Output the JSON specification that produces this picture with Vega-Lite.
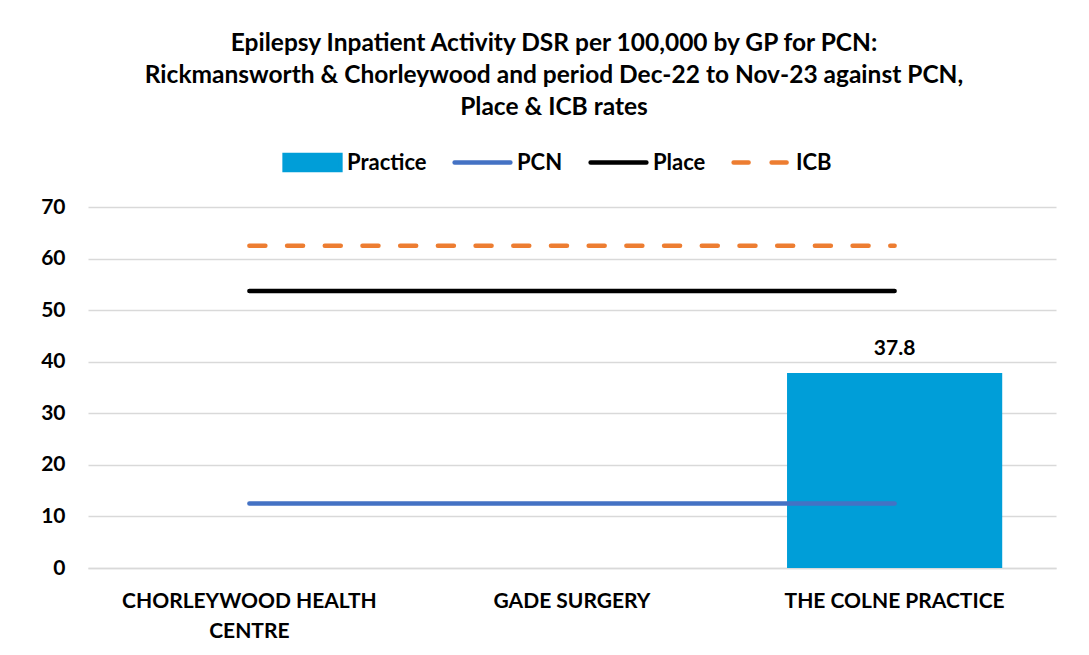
{
  "$schema": "https://vega.github.io/schema/vega-lite/v6.json",
  "autosize": "none",
  "width": 968,
  "height": 361,
  "padding": {"left": 88, "top": 207, "right": 33, "bottom": 87},
  "background": "white",
  "title": {
    "text": ["Epilepsy Inpatient Activity DSR per 100,000 by GP for PCN:", "Rickmansworth & Chorleywood and period Dec-22 to Nov-23 against PCN,", "Place & ICB rates"],
    "anchor": "middle",
    "dx": -18,
    "offset": 10,
    "font": "Lato",
    "fontSize": 24.5,
    "fontWeight": "bold",
    "color": "#000000",
    "lineHeight": 32
  },
  "datasets": {
    "practice": [
      {"practice": "THE COLNE PRACTICE", "series": "Practice", "value": 37.8}
    ],
    "benchmarks": [
      {"practice": "CHORLEYWOOD HEALTH CENTRE", "series": "PCN", "value": 12.5},
      {"practice": "GADE SURGERY", "series": "PCN", "value": 12.5},
      {"practice": "THE COLNE PRACTICE", "series": "PCN", "value": 12.5},
      {"practice": "CHORLEYWOOD HEALTH CENTRE", "series": "Place", "value": 53.7},
      {"practice": "GADE SURGERY", "series": "Place", "value": 53.7},
      {"practice": "THE COLNE PRACTICE", "series": "Place", "value": 53.7},
      {"practice": "CHORLEYWOOD HEALTH CENTRE", "series": "ICB", "value": 62.5},
      {"practice": "GADE SURGERY", "series": "ICB", "value": 62.5},
      {"practice": "THE COLNE PRACTICE", "series": "ICB", "value": 62.5}
    ]
  },
  "encoding": {
    "x": {
      "field": "practice",
      "type": "nominal",
      "sort": null,
      "scale": {
        "domain": ["CHORLEYWOOD HEALTH CENTRE", "GADE SURGERY", "THE COLNE PRACTICE"],
        "paddingInner": 0.333,
        "paddingOuter": 0.1667
      },
      "axis": {
        "title": null,
        "labelAngle": 0,
        "labelExpr": "datum.label == 'CHORLEYWOOD HEALTH CENTRE' ? ['CHORLEYWOOD HEALTH', 'CENTRE'] : datum.label",
        "labelLineHeight": 30,
        "labelPadding": 22,
        "labelBaseline": "top",
        "ticks": false,
        "domain": true,
        "domainColor": "#D9D9D9",
        "domainWidth": 1.5,
        "labelLimit": 400
      }
    },
    "y": {
      "field": "value",
      "type": "quantitative",
      "scale": {"domain": [0, 70], "nice": false},
      "axis": {
        "title": null,
        "values": [0, 10, 20, 30, 40, 50, 60, 70],
        "ticks": false,
        "domain": false,
        "grid": true,
        "gridColor": "#D9D9D9",
        "gridWidth": 1.5,
        "labelPadding": 23
      }
    }
  },
  "layer": [
    {
      "data": {"name": "practice"},
      "mark": {"type": "bar", "color": "#009ED8"},
      "encoding": {
        "color": {
          "field": "series",
          "type": "nominal",
          "scale": {
            "domain": ["Practice", "PCN", "Place", "ICB"],
            "range": ["#009ED8", "#4472C4", "#000000", "#ED7D31"]
          },
          "legend": {
            "title": null,
            "orient": "none",
            "direction": "horizontal",
            "legendX": 192,
            "legendY": -77,
            "symbolSize": 3600,
            "labelOffset": 2,
            "columnPadding": 18,
            "encode": {
              "symbols": {
                "update": {
                  "shape": {"signal": "datum.value === 'Practice' ? 'M-0.93,-0.25H0.93V0.25H-0.93Z' : 'M-0.93,-0.25M-0.93,0.25M-0.93,0H0.93'"},
                  "fill": {"signal": "datum.value === 'Practice' ? '#009ED8' : 'transparent'"},
                  "stroke": {"signal": "datum.value === 'Practice' ? 'transparent' : datum.value === 'PCN' ? '#4472C4' : datum.value === 'Place' ? '#000000' : '#ED7D31'"},
                  "strokeWidth": {"value": 4.5},
                  "strokeCap": {"value": "round"},
                  "strokeDash": {"signal": "datum.value === 'ICB' ? [15, 23] : [1, 0]"},
                  "opacity": {"value": 1}
                }
              }
            }
          }
        }
      }
    },
    {
      "data": {"name": "practice"},
      "mark": {"type": "text", "baseline": "bottom", "dy": -14, "font": "Lato", "fontSize": 21, "fontWeight": "bold", "color": "#000000"},
      "encoding": {
        "text": {"field": "value", "type": "quantitative", "format": ".1f"}
      }
    },
    {
      "data": {"name": "benchmarks"},
      "mark": {"type": "line", "strokeWidth": 4.5, "strokeCap": "round"},
      "encoding": {
        "color": {"field": "series", "type": "nominal"},
        "strokeDash": {
          "field": "series",
          "type": "nominal",
          "scale": {"domain": ["PCN", "Place", "ICB"], "range": [[1, 0], [1, 0], [16, 21.7]]},
          "legend": null
        },
        "detail": {"field": "series"}
      }
    }
  ],
  "config": {
    "view": {"stroke": null},
    "font": "Lato",
    "axis": {
      "labelFont": "Lato",
      "labelFontSize": 21,
      "labelFontWeight": "bold",
      "labelColor": "#000000"
    },
    "legend": {
      "labelFont": "Lato",
      "labelFontSize": 22,
      "labelFontWeight": "bold",
      "labelColor": "#000000"
    }
  }
}
